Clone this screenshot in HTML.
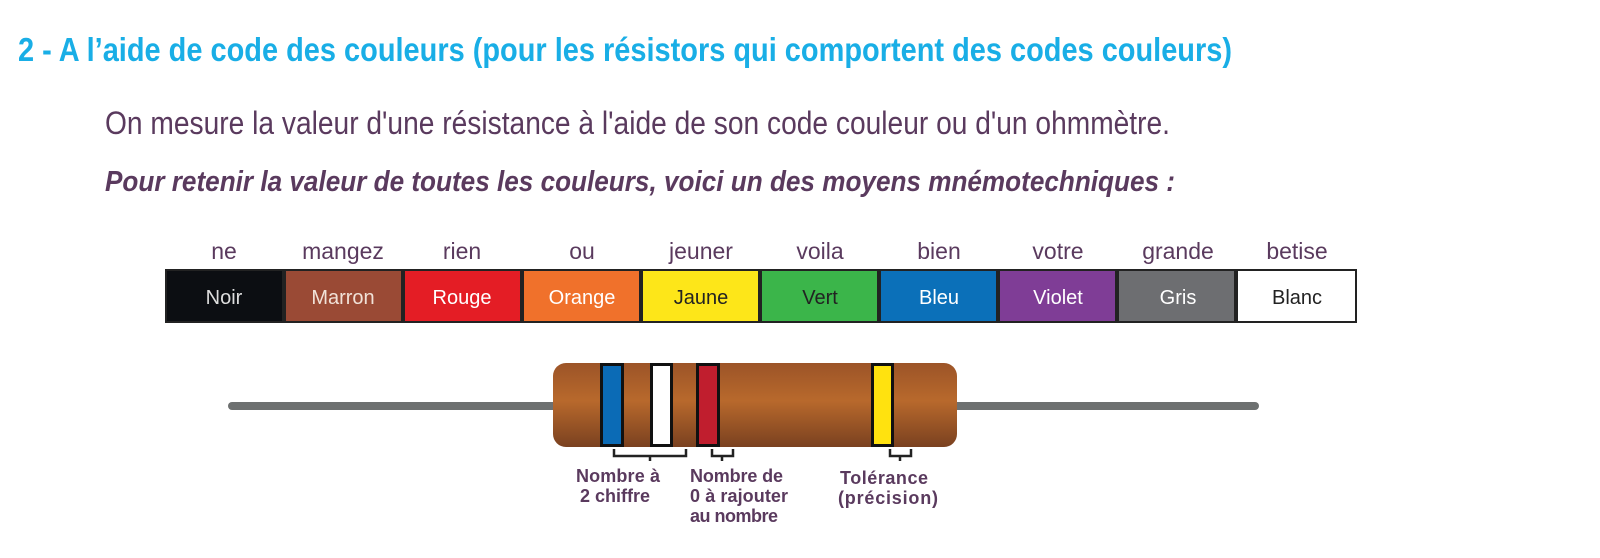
<!DOCTYPE html>
<html><head><meta charset="utf-8"><style>
html,body{margin:0;padding:0;background:#fff;}
svg{display:block;}
text{font-family:"Liberation Sans Narrow","Liberation Sans",sans-serif;}
</style></head><body>
<svg width="1600" height="558" viewBox="0 0 1600 558" xmlns="http://www.w3.org/2000/svg">
<defs>
<linearGradient id="bd" x1="0" y1="0" x2="0" y2="1">
<stop offset="0" stop-color="#9c5428"/>
<stop offset="0.45" stop-color="#b8692c"/>
<stop offset="1" stop-color="#7a4120"/>
</linearGradient>
</defs>
<text x="18" y="61" font-size="33" font-weight="bold" fill="#19aee6" textLength="1214" lengthAdjust="spacingAndGlyphs">2 - A l’aide de code des couleurs (pour les résistors qui comportent des codes couleurs)</text>
<text x="105" y="134" font-size="32" fill="#5a3a5e" textLength="1065" lengthAdjust="spacingAndGlyphs">On mesure la valeur d'une résistance à l'aide de son code couleur ou d'un ohmmètre.</text>
<text x="105" y="191" font-size="29" font-weight="bold" font-style="italic" fill="#5a3a5e" textLength="1070" lengthAdjust="spacingAndGlyphs">Pour retenir la valeur de toutes les couleurs, voici un des moyens mnémotechniques :</text>

<g font-size="23" fill="#5a3a5e" text-anchor="middle">
<text x="224" y="259">ne</text><text x="343" y="259">mangez</text><text x="462" y="259">rien</text><text x="582" y="259">ou</text><text x="701" y="259">jeuner</text><text x="820" y="259">voila</text><text x="939" y="259">bien</text><text x="1058" y="259">votre</text><text x="1178" y="259">grande</text><text x="1297" y="259">betise</text>
</g>
<rect x="165" y="269" width="1192" height="54" fill="#222"/>
<g stroke="none">
<rect x="167" y="271" width="115" height="50" fill="#0c0e12"/>
<rect x="286" y="271" width="115" height="50" fill="#9a4a35"/>
<rect x="405" y="271" width="115" height="50" fill="#e41d25"/>
<rect x="524" y="271" width="115" height="50" fill="#f0712b"/>
<rect x="643" y="271" width="115" height="50" fill="#fde619"/>
<rect x="762" y="271" width="115" height="50" fill="#3bb54a"/>
<rect x="881" y="271" width="115" height="50" fill="#0b70b9"/>
<rect x="1000" y="271" width="115" height="50" fill="#7f3d96"/>
<rect x="1119" y="271" width="115" height="50" fill="#6d6e71"/>
<rect x="1238" y="271" width="117" height="50" fill="#ffffff"/>
</g>
<g font-size="20" text-anchor="middle">
<text x="224" y="304" fill="#ddd">Noir</text><text x="343" y="304" fill="#f1e2d8">Marron</text><text x="462" y="304" fill="#fff">Rouge</text><text x="582" y="304" fill="#fff">Orange</text><text x="701" y="304" fill="#222">Jaune</text><text x="820" y="304" fill="#222">Vert</text><text x="939" y="304" fill="#fff">Bleu</text><text x="1058" y="304" fill="#fff">Violet</text><text x="1178" y="304" fill="#fff">Gris</text><text x="1297" y="304" fill="#222">Blanc</text>
</g>

<line x1="232" y1="406" x2="1255" y2="406" stroke="#6d7070" stroke-width="8" stroke-linecap="round"/>
<rect x="553" y="363" width="404" height="84" rx="13" fill="url(#bd)"/>
<rect x="601.5" y="364.5" width="21" height="81" fill="#0b6bb6" stroke="#111" stroke-width="3"/>
<rect x="651.5" y="364.5" width="20" height="81" fill="#fff" stroke="#111" stroke-width="3"/>
<rect x="697.5" y="364.5" width="21" height="81" fill="#c01e2e" stroke="#111" stroke-width="3"/>
<rect x="872.5" y="364.5" width="20" height="81" fill="#ffe20f" stroke="#111" stroke-width="3"/>
<g stroke="#222" stroke-width="2.5" fill="none">
<path d="M614 449 V456 H686 V449 M650 456 V461"/>
<path d="M712 449 V456 H733 V449 M722 456 V461"/>
<path d="M890 449 V456 H911 V449 M900 456 V461"/>
</g>
<g font-size="18" font-weight="bold" fill="#5a3a5e" lengthAdjust="spacingAndGlyphs">
<text x="576" y="482" textLength="84">Nombre à</text><text x="580" y="502" textLength="70">2 chiffre</text>
<text x="690" y="482" textLength="93">Nombre de</text><text x="690" y="502" textLength="98">0 à rajouter</text><text x="690" y="522" textLength="88">au nombre</text>
<text x="840" y="484" textLength="88">Tolérance</text><text x="838" y="504" textLength="100">(précision)</text>
</g>
</svg>
</body></html>
